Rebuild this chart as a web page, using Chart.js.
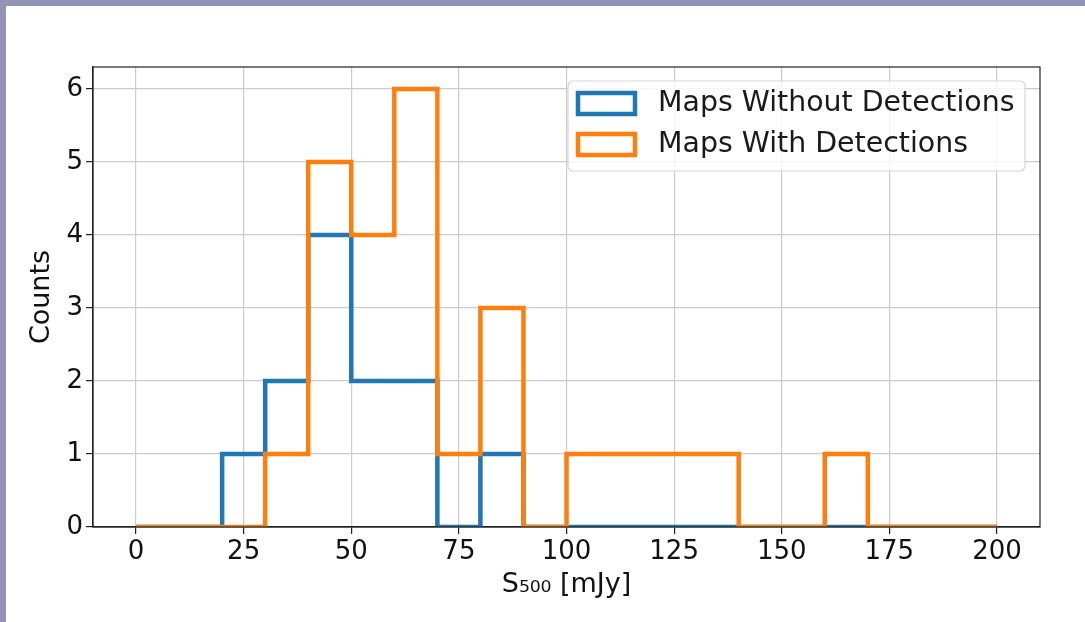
<!DOCTYPE html>
<html>
<head>
<meta charset="utf-8">
<script src="https://cdn.jsdelivr.net/npm/chart.js@4"></script>
<style>
  html, body { margin: 0; padding: 0; background: #9494b8; }
  #frame { position: absolute; left: 6px; top: 6px; width: 1079px; height: 616px; background: #fff; }
  canvas { display: block; }
</style>
</head>
<body>
<div id="frame"><canvas id="histChart" width="1079" height="616"></canvas></div>
<script>
// histogram bin edges (mJy) and counts per bin
const binEdges = [0, 10, 20, 30, 40, 50, 60, 70, 80, 90, 100, 110, 120, 130, 140, 150, 160, 170, 180, 190, 200];
const withoutDetections = [0, 0, 1, 2, 4, 2, 2, 0, 1, 0, 0, 0, 0, 0, 0, 0, 0, 0, 0, 0];
const withDetections = [0, 0, 0, 1, 5, 4, 6, 1, 3, 0, 1, 1, 1, 1, 0, 0, 1, 0, 0, 0];
const xTicks = [0, 25, 50, 75, 100, 125, 150, 175, 200];
const yTicks = [0, 1, 2, 3, 4, 5, 6];

const seriesLabels = ['Maps Without Detections', 'Maps With Detections'];
const seriesColors = ['#1f77b4', '#ff7f0e'];

// outline like matplotlib histtype='step'
function stepPoints(counts) {
  const pts = [{ x: binEdges[0], y: 0 }];
  counts.forEach((c, i) => pts.push({ x: binEdges[i], y: c }));
  const last = binEdges[binEdges.length - 1];
  pts.push({ x: last, y: counts[counts.length - 1] });
  pts.push({ x: last, y: 0 });
  return pts;
}

const FONT = "'DejaVu Sans', sans-serif";

// top/right spines + legend box in the upper right
const framePlugin = {
  id: 'framePlugin',
  afterDatasetsDraw(chart) {
    const { ctx, chartArea: a } = chart;
    ctx.save();
    ctx.strokeStyle = '#222';
    ctx.lineWidth = 1.2;
    ctx.strokeRect(a.left, a.top, a.right - a.left, a.bottom - a.top);

    // legend
    const lx = 562, ly = 75, lw = 457, lh = 90;
    ctx.beginPath();
    ctx.roundRect(lx, ly, lw, lh, 5);
    ctx.fillStyle = 'rgba(255,255,255,0.8)';
    ctx.fill();
    ctx.strokeStyle = 'rgba(204,204,204,0.8)';
    ctx.lineWidth = 1.2;
    ctx.stroke();

    ctx.font = '28.4px ' + FONT;
    ctx.textBaseline = 'middle';
    ctx.textAlign = 'left';
    chart.data.datasets.forEach((ds, i) => {
      const cy = ly + 22 + i * 41;
      ctx.strokeStyle = ds.borderColor;
      ctx.lineWidth = 4.5;
      ctx.lineJoin = 'miter';
      ctx.strokeRect(lx + 10, cy - 10, 57, 21);
      ctx.fillStyle = '#1a1a1a';
      ctx.fillText(ds.label, lx + 90, cy + 1);
    });
    ctx.restore();
  }
};

const ctx = document.getElementById('histChart').getContext('2d');

new Chart(ctx, {
  type: 'line',
  data: {
    datasets: [
      {
        label: seriesLabels[0],
        data: stepPoints(withoutDetections),
        borderColor: seriesColors[0],
        borderWidth: 4.5,
        stepped: 'before',
        pointRadius: 0,
        fill: false,
        borderJoinStyle: 'miter',
        order: 2
      },
      {
        label: seriesLabels[1],
        data: stepPoints(withDetections),
        borderColor: seriesColors[1],
        borderWidth: 4.5,
        stepped: 'before',
        pointRadius: 0,
        fill: false,
        borderJoinStyle: 'miter',
        order: 1
      }
    ]
  },
  options: {
    responsive: false,
    animation: false,
    layout: { padding: { left: 0, right: 45, top: 61, bottom: 0 } },
    plugins: {
      legend: { display: false },
      tooltip: { enabled: false }
    },
    scales: {
      x: {
        type: 'linear',
        min: -10,
        max: 210,
        afterBuildTicks: s => { s.ticks = xTicks.map(v => ({ value: v })); },
        afterFit: s => { s.height = 95; },
        grid: { color: '#cccccc', lineWidth: 1.2, tickColor: '#222', tickLength: 7, tickWidth: 1.2 },
        border: { color: '#222', width: 1.2 },
        ticks: { color: '#111', font: { family: FONT, size: 26 }, padding: 3, maxRotation: 0 },
        title: { display: true, text: 'S₅₀₀ [mJy]', color: '#111', font: { family: FONT, size: 27 }, padding: { top: 4, bottom: 21 } }
      },
      y: {
        min: 0,
        max: 6.3,
        afterBuildTicks: s => { s.ticks = yTicks.map(v => ({ value: v })); },
        afterFit: s => { s.width = 87; },
        grid: { color: '#cccccc', lineWidth: 1.2, tickColor: '#222', tickLength: 7, tickWidth: 1.2 },
        border: { color: '#222', width: 1.2 },
        ticks: { color: '#111', font: { family: FONT, size: 26 }, padding: 3 },
        title: { display: true, text: 'Counts', color: '#111', font: { family: FONT, size: 27 }, padding: { top: 20, bottom: 0 } }
      }
    }
  },
  plugins: [framePlugin]
});
</script>
</body>
</html>
